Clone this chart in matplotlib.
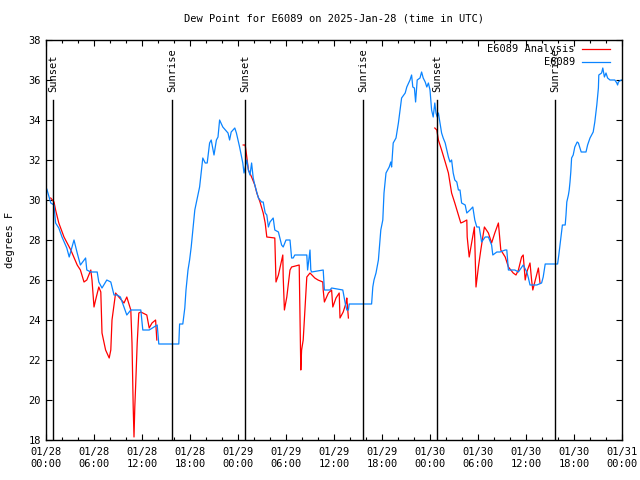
import numpy as np
import matplotlib
matplotlib.use("Agg")
import matplotlib.pyplot as plt
from matplotlib.ticker import MultipleLocator

plt.rcParams['font.family'] = ['DejaVu Sans Mono']
FS = 7.5

# hours since 2025-01-28 00:00 UTC, dew point in F
obs_hours = [0.0, 0.1, 0.6, 1.0, 1.2, 1.6, 2.0, 2.6, 2.9, 3.5, 3.9, 4.3, 4.95, 5.1, 5.6, 6.4, 6.6, 7.0,
             7.6, 8.1, 8.5, 8.9, 9.3, 10.1, 10.6, 11.85, 12.1, 12.9, 13.9, 14.1, 16.6, 16.7, 17.1, 17.35,
             17.5, 17.75, 17.95, 18.15, 18.4, 18.6, 19.0, 19.2, 19.6, 19.9, 20.15, 20.45, 20.65, 21.0,
             21.3, 21.5, 21.7, 22.1, 22.75, 22.95, 23.15, 23.6, 23.8, 24.2, 24.6, 24.75, 25.1, 25.3,
             25.5, 25.7, 25.9, 26.1, 26.55, 26.95, 27.15, 27.4, 27.6, 27.8, 28.0, 28.4, 28.6, 29.05,
             29.45, 29.65, 30.0, 30.5, 30.7, 30.9, 31.1, 32.6, 32.7, 33.0, 33.1, 33.2, 34.65, 34.8,
             35.5, 35.7, 37.1, 37.4, 37.6, 37.8, 37.9, 40.7, 40.85, 41.0, 41.25, 41.55, 41.85, 42.1,
             42.25, 42.5, 42.9, 43.1, 43.2, 43.4, 43.75, 44.05, 44.45, 44.9, 45.1, 45.5, 45.7, 45.85,
             46.05, 46.2, 46.4, 46.75, 46.95, 47.15, 47.4, 47.6, 47.8, 48.0, 48.2, 48.4, 48.6, 48.75,
             48.9, 49.05, 49.25, 49.45, 49.65, 49.9, 50.1, 50.3, 50.5, 50.7, 50.9, 51.1, 51.35, 51.55,
             51.75, 51.95, 52.4, 52.6, 53.0, 53.35, 53.6, 53.85, 54.15, 54.45, 54.9, 55.3, 55.7, 55.85,
             56.35, 56.75, 57.4, 57.6, 57.8, 58.6, 59.05, 59.65, 60.1, 60.3, 60.5, 61.35, 61.95, 62.15,
             62.4, 63.95, 64.1, 64.4, 64.55, 64.9, 65.0, 65.1, 65.3, 65.4, 65.5, 65.6, 65.7, 65.9,
             66.1, 66.4, 66.55, 66.9, 67.5, 67.7, 68.0, 68.2, 68.4, 68.6, 68.85, 69.05, 69.1, 69.45,
             69.6, 69.8, 70.0, 70.2, 70.5, 71.1, 71.35, 71.45, 71.55, 71.9, 72.0]
obs_dewpt = [30.6, 30.55, 29.85, 29.75, 28.85, 28.6, 28.15, 27.6, 27.15, 28.0, 27.35, 26.75, 27.1, 26.5,
             26.4, 26.4, 25.9, 25.6, 26.0, 25.9, 25.25, 25.25, 25.15, 24.25, 24.5, 24.5, 23.5, 23.5,
             23.75, 22.8, 22.8, 23.8, 23.8, 24.6, 25.5, 26.5, 27.0, 27.65, 28.65, 29.5, 30.25, 30.65,
             32.1, 31.85, 31.85, 32.85, 33.0, 32.25, 33.0, 33.15, 34.0, 33.65, 33.35, 33.0, 33.4, 33.6,
             33.35, 32.65, 31.85, 31.35, 32.0, 31.5, 31.25, 31.85, 31.1, 30.75, 30.1, 29.9, 29.9, 29.35,
             29.25, 28.65, 28.9, 29.1, 28.5, 28.4, 27.75, 27.65, 28.0, 28.0, 27.1, 27.1, 27.25, 27.25,
             26.5, 27.5, 26.5, 26.4, 26.5, 25.5, 25.5, 25.6, 25.5, 24.85, 24.5, 24.5, 24.8, 24.8, 25.65,
             26.0, 26.35, 27.0, 28.5, 29.0, 30.35, 31.35, 31.65, 31.9, 31.65, 32.85, 33.1, 33.85, 35.1,
             35.35, 35.65, 36.0, 36.25, 35.65, 35.6, 34.9, 36.0, 36.1, 36.4, 36.1, 35.9, 35.65, 35.85,
             35.5, 34.5, 34.15, 34.85, 34.35, 34.15, 34.35, 33.85, 33.35, 33.1, 32.85, 32.5, 32.15,
             31.9, 32.0, 31.35, 31.0, 30.9, 30.5, 30.5, 29.85, 29.75, 29.35, 29.5, 29.65, 29.0, 28.65,
             28.65, 27.9, 28.15, 28.15, 27.75, 27.25, 27.4, 27.4, 27.5, 27.5, 26.5, 26.5, 26.4, 26.75,
             26.4, 26.1, 25.75, 25.75, 25.85, 26.15, 26.8, 26.8, 27.25, 28.25, 28.75, 28.75, 29.25,
             29.9, 30.25, 30.5, 30.9, 31.4, 32.1, 32.25, 32.65, 32.9, 32.85, 32.4, 32.4, 32.75, 33.1,
             33.25, 33.4, 33.9, 34.75, 35.6, 36.25, 36.35, 36.6, 36.15, 36.35, 36.1, 36.0, 36.0, 35.85,
             35.75, 35.9, 36.0, 36.0]

nan = np.nan
anl_hours = [0.59, 1.0, 1.2, 1.6, 2.25, 3.1, 3.9, 4.3, 4.75, 5.1, 5.6, 5.75, 6.0, 6.2, 6.6, 6.85, 7.0,
             7.45, 7.9, 8.1, 8.25, 8.7, 9.1, 9.75, 10.1, 10.6, 10.75, 10.9, 11.0, 11.1, 11.2, 11.4,
             11.6, 11.85, 12.6, 12.9, 13.25, 13.7, 13.85, nan,
             24.65, 24.9, 25.1, 25.3, 25.7, 26.1, 26.35, 26.75, 27.15, 27.4, 27.6, 28.6, 28.75, 29.05,
             29.6, 29.65, 29.8, 30.1, 30.5, 30.7, 31.65, 31.75, 31.85, 31.95, 32.15, 32.6, 33.0, 33.6,
             34.0, 34.6, 34.65, 34.8, 35.3, 35.7, 35.85, 36.25, 36.65, 36.75, 37.15, 37.5, 37.6, 37.8, nan,
             48.6, 48.85, 49.05, 49.45, 49.9, 50.3, 50.7, 51.1, 51.55, 51.85, 52.15, 52.6, 52.65, 52.9,
             53.2, 53.55, 53.75, 54.05, 54.35, 54.6, 54.8, 55.3, 55.7, 56.1, 56.55, 56.85, 57.4, 57.8,
             58.4, 58.75, 59.05, 59.45, 59.65, 59.9, 60.1, 60.5, 60.7, 60.85, 61.1, 61.55, 61.75]
anl_dewpt = [30.1, 29.9, 29.5, 28.85, 28.15, 27.5, 26.75, 26.5, 25.9, 26.0, 26.5, 26.0, 24.65, 25.0,
             25.65, 25.4, 23.35, 22.5, 22.1, 22.5, 24.0, 25.35, 25.15, 24.85, 25.15, 24.5, 22.85, 19.65,
             18.15, 19.65, 20.65, 22.85, 24.35, 24.4, 24.25, 23.6, 23.85, 24.0, 23.0, nan,
             32.75, 32.75, 32.15, 31.5, 31.15, 30.75, 30.35, 29.9, 29.35, 28.85, 28.15, 28.1, 25.9, 26.25,
             27.25, 26.15, 24.5, 25.15, 26.5, 26.65, 26.75, 24.15, 21.5, 22.5, 23.0, 26.15, 26.35, 26.1,
             26.0, 25.9, 25.5, 24.9, 25.35, 25.5, 24.65, 25.1, 25.35, 24.1, 24.4, 24.85, 25.1, 24.1, nan,
             33.6, 33.5, 33.0, 32.5, 31.9, 31.35, 30.35, 29.85, 29.25, 28.85, 28.9, 29.0, 28.15, 27.15,
             27.85, 28.65, 25.65, 26.65, 27.5, 28.15, 28.65, 28.35, 27.85, 28.35, 28.85, 27.5, 27.15,
             26.65, 26.35, 26.25, 26.5, 27.15, 27.25, 26.0, 26.4, 26.85, 26.0, 25.5, 25.9, 26.6, 25.85]

sunset_hours = [0.875, 24.875, 48.9]
sunrise_hours = [15.75, 39.6, 63.6]

tick_hours = list(range(0, 73, 6))
tick_labels = ['01/28\n00:00', '01/28\n06:00', '01/28\n12:00', '01/28\n18:00',
               '01/29\n00:00', '01/29\n06:00', '01/29\n12:00', '01/29\n18:00',
               '01/30\n00:00', '01/30\n06:00', '01/30\n12:00', '01/30\n18:00',
               '01/31\n00:00']

fig = plt.figure(figsize=(6.4, 4.8), dpi=100)
ax = fig.add_axes([46/640, 40/480, 576/640, 400/480])

red = '#ff0000'
blue = '#0a84ff'
ax.plot(anl_hours, anl_dewpt, color=red, lw=0.9)
ax.plot(obs_hours, obs_dewpt, color=blue, lw=0.9)

for h in sunset_hours:
    ax.plot([h, h], [18, 35], color='black', lw=1.0)
    ax.text(h, 35.4, 'Sunset', rotation=90, ha='center', va='bottom', fontsize=FS)
for h in sunrise_hours:
    ax.plot([h, h], [18, 35], color='black', lw=1.0)
    ax.text(h, 35.4, 'Sunrise', rotation=90, ha='center', va='bottom', fontsize=FS)

# legend, gnuplot style (text right-aligned, sample to the right)
ax.text(0.918, 0.978, 'E6089 Analysis', transform=ax.transAxes, ha='right', va='center', fontsize=FS)
ax.plot([0.931, 0.98], [0.978, 0.978], transform=ax.transAxes, color=red, lw=0.9)
ax.text(0.918, 0.944, 'E6089', transform=ax.transAxes, ha='right', va='center', fontsize=FS)
ax.plot([0.931, 0.98], [0.944, 0.944], transform=ax.transAxes, color=blue, lw=0.9)

ax.set_xlim(0, 72)
ax.set_ylim(18, 38)
ax.set_xticks(tick_hours)
ax.set_xticklabels(tick_labels, fontsize=FS)
ax.xaxis.set_minor_locator(MultipleLocator(2))
ax.set_yticks(range(18, 39, 2))
ax.tick_params(axis='y', labelsize=FS)
ax.tick_params(which='both', direction='in', top=True, right=True, width=0.8)
ax.tick_params(which='major', length=4)
ax.tick_params(which='minor', length=2)
ax.tick_params(axis='x', pad=5)
for s in ax.spines.values():
    s.set_linewidth(1.0)

ax.set_title('Dew Point for E6089 on 2025-Jan-28 (time in UTC)', fontsize=FS, pad=13)
fig.text(10/640, 0.5, 'degrees F', rotation=90, ha='center', va='center', fontsize=FS)

fig.savefig('out.png', dpi=100)
